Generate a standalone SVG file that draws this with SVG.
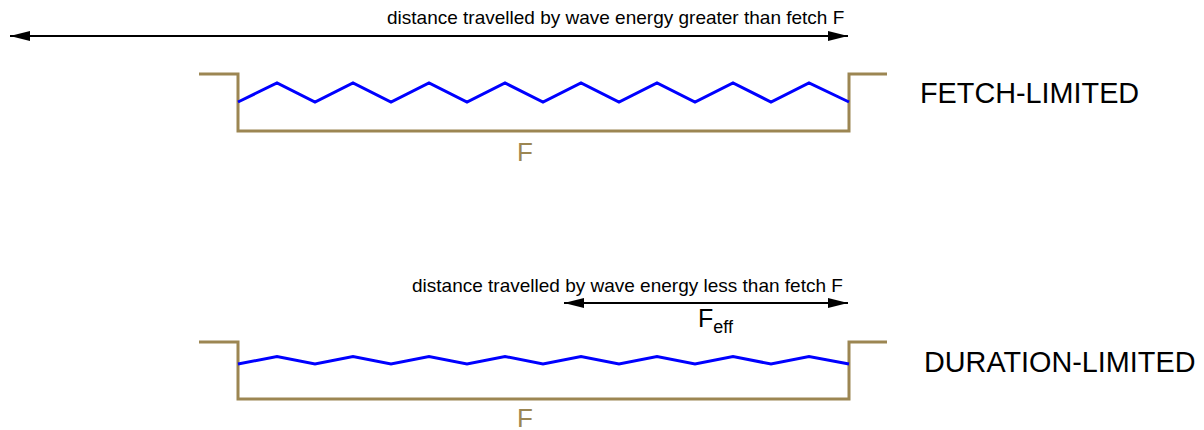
<svg xmlns="http://www.w3.org/2000/svg" width="1204" height="430" viewBox="0 0 1204 430">
<style>
  .basin{fill:none;stroke:#9c8652;stroke-width:3}
  .wave{fill:none;stroke:#0000ff;stroke-width:3;stroke-linejoin:miter}
  .dim{fill:none;stroke:#000;stroke-width:2}
  .cap{font-family:"Liberation Sans",Arial,sans-serif;font-size:19px;fill:#000}
  .title{font-family:"Liberation Sans",Arial,sans-serif;font-size:28.8px;fill:#000}
  .flab{font-family:"Liberation Sans",Arial,sans-serif;font-size:26px;fill:#9c8652}
  .feff{font-family:"Liberation Sans",Arial,sans-serif;font-size:25px;fill:#000}
</style>
<defs>
  <marker id="ah" markerUnits="userSpaceOnUse" markerWidth="22" markerHeight="12" refX="20" refY="5.5" orient="auto-start-reverse">
    <path d="M0,0.5 L20,5.5 L0,10.5 Z" fill="#000"/>
  </marker>
</defs>
<g id="fetch-limited">
  <polyline class="basin" points="199,74 238,74 238,131 849,131 849,74 887,74"/>
  <polyline class="wave" points="238,102 277,83 315,102 353,83 391,102 429,83 467,102 505,83 543,102 581,83 619,102 657,83 695,102 733,83 771,102 809,83 849,102"/>
  <text class="flab" x="517" y="161">F</text>
  <text class="title" x="920" y="103">FETCH-LIMITED</text>
</g>
<g id="duration-limited">
  <polyline class="basin" points="199,342 238,342 238,399 849,399 849,342 887,342"/>
  <polyline class="wave" points="238,364 277,356.5 315,364 353,356.5 391,364 429,356.5 467,364 505,356.5 543,364 581,356.5 619,364 657,356.5 695,364 733,356.5 771,364 809,356.5 849,364"/>
  <text class="flab" x="517" y="427" font-size="25">F</text>
  <text class="title" x="924" y="372">DURATION-LIMITED</text>
</g>
<g id="connectors">
  <line class="dim" x1="10" y1="36" x2="848" y2="36" marker-start="url(#ah)" marker-end="url(#ah)"/>
  <line class="dim" x1="564" y1="303" x2="848" y2="303" marker-start="url(#ah)" marker-end="url(#ah)"/>
</g>
<g id="labels">
  <text class="cap" x="387" y="24">distance travelled by wave energy greater than fetch F</text>
  <text class="cap" x="412" y="292">distance travelled by wave energy less than fetch F</text>
  <text class="feff" x="698" y="327">F<tspan font-size="18" dy="6">eff</tspan></text>
</g>
</svg>
